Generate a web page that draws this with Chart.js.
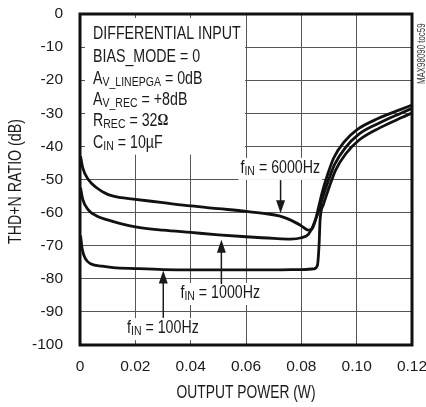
<!DOCTYPE html>
<html lang="en">
<head>
    <meta charset="UTF-8">
    <title>THD+N Ratio vs Output Power</title>
    <style>
        body { margin: 0; background: #fff; }
        canvas { display: block; }
    </style>
</head>
<body>
    <canvas id="myChart" width="426" height="407"></canvas>

    <script src="https://cdn.jsdelivr.net/npm/chart.js"></script>
    <script>
        // Valores (potência em W, THD+N em dB)
        const power6000 = [0.0002, 0.001, 0.003, 0.006, 0.01, 0.015, 0.02, 0.03, 0.04, 0.05, 0.06, 0.067, 0.072, 0.076, 0.08, 0.0825, 0.0838, 0.085, 0.0862, 0.0875, 0.0895, 0.0917, 0.0954, 0.1004, 0.1077, 0.116, 0.12];
        const thd6000 = [-43, -46.5, -50, -52.5, -54.5, -55.5, -56, -57, -58, -58.8, -59.6, -60.3, -61, -62.2, -64, -65.3, -65, -62.5, -58.5, -54, -48.5, -43.5, -38.7, -34.8, -31.6, -28.8, -27.5];

        const power1000 = [0.0002, 0.001, 0.003, 0.006, 0.01, 0.015, 0.02, 0.03, 0.04, 0.05, 0.06, 0.07, 0.076, 0.08, 0.0825, 0.084, 0.0852, 0.0863, 0.0877, 0.0897, 0.092, 0.0958, 0.1008, 0.108, 0.1162, 0.12];
        const thd1000 = [-52.5, -56, -59.2, -61, -62.2, -63.4, -64.3, -65.3, -66, -66.7, -67.3, -67.8, -68, -67.6, -66.6, -64.5, -62, -59.5, -55.5, -50.5, -45.5, -40.5, -36.3, -33, -29.9, -28.5];

        const power100 = [0.0002, 0.0008, 0.002, 0.004, 0.008, 0.012, 0.02, 0.03, 0.04, 0.05, 0.06, 0.07, 0.08, 0.0845, 0.0858, 0.0864, 0.0868, 0.088, 0.09, 0.0923, 0.096, 0.101, 0.1083, 0.1165, 0.12];
        const thd100 = [-67, -71, -74, -75.5, -76.2, -76.6, -76.9, -77.2, -77.3, -77.3, -77.3, -77.3, -77.2, -77, -76, -70, -62, -57.5, -52.5, -47.3, -42.3, -38, -34.4, -31.2, -29.9];

        const xTickLabels = ['0', '0.02', '0.04', '0.06', '0.08', '0.10', '0.12'];
        const yTickLabels = ['0', '-10', '-20', '-30', '-40', '-50', '-60', '-70', '-80', '-90', '-100'];

        const FONT = '"Liberation Sans", Arial, sans-serif';
        const NARROW = 0.79; // compressão horizontal para imitar a fonte condensada
        const INK = '#1a1a1a';

        // Condições de teste (caixa de texto no canto superior esquerdo)
        const conditions = [
            [['DIFFERENTIAL INPUT']],
            [['BIAS_MODE = 0']],
            [['A'], ['V_LINEPGA', 'sub'], [' = 0dB']],
            [['A'], ['V_REC', 'sub'], [' = +8dB']],
            [['R'], ['REC', 'sub'], [' = 32'], ['\u03A9', 'serif']],
            [['C'], ['IN', 'sub'], [' = 10\u00B5F']]
        ];

        // Rótulos das curvas com setas
        const curveLabels = [
            { text: '6000Hz', x: 0.058, y: -46.5, arrowX: 0.0725, from: -50.2, to: -60.2 },
            { text: '1000Hz', x: 0.0363, y: -84.3, arrowX: 0.0511, from: -81.6, to: -68.2 },
            { text: '100Hz', x: 0.017, y: -94.9, arrowX: 0.0301, from: -91.8, to: -77.5 }
        ];

        function toPoints(xs, ys) {
            return xs.map((x, i) => ({ x: x, y: ys[i] }));
        }

        // texto comprimido na horizontal; devolve a largura
        function narrowText(ctx, t, x, y, draw) {
            const w = ctx.measureText(t).width * NARROW;
            if (draw) {
                ctx.save();
                ctx.translate(x, y);
                ctx.scale(NARROW, 1);
                ctx.fillText(t, 0, 0);
                ctx.restore();
            }
            return w;
        }

        function richText(ctx, x, y, parts, size, measureOnly) {
            let cx = x;
            for (const [t, kind] of parts) {
                let s = size, dy = 0, fam = FONT, weight = '';
                if (kind === 'sub') { s = size * 0.74; dy = size * 0.2; }
                if (kind === 'serif') { fam = '"Liberation Serif", serif'; weight = 'bold '; s = size * 0.95; }
                ctx.font = weight + s + 'px ' + fam;
                cx += narrowText(ctx, t, cx, y + dy, !measureOnly);
            }
            return cx - x;
        }

        const annotations = {
            id: 'annotations',
            beforeDatasetsDraw(chart) {
                const ctx = chart.ctx;
                const xs = chart.scales.x, ys = chart.scales.y;
                const area = chart.chartArea;
                ctx.save();
                ctx.textBaseline = 'middle';
                ctx.textAlign = 'left';

                // fundo branco da caixa de condições
                ctx.fillStyle = '#fff';
                ctx.fillRect(area.left + 5, area.top + 4, xs.getPixelForValue(0.06) - area.left - 6, ys.getPixelForValue(-42.5) - area.top - 4);

                ctx.fillStyle = INK;
                const rowsY = [-6.0, -13.0, -19.6, -26.0, -32.3, -39.0];
                conditions.forEach((parts, i) => {
                    richText(ctx, xs.getPixelForValue(0.0047), ys.getPixelForValue(rowsY[i]), parts, 18);
                });

                // rótulos f_IN = ...
                curveLabels.forEach(l => {
                    const parts = [['f'], ['IN', 'sub'], [' = ' + l.text]];
                    const px = xs.getPixelForValue(l.x), py = ys.getPixelForValue(l.y);
                    const w = richText(ctx, px, py, parts, 18, true);
                    ctx.fillStyle = '#fff';
                    ctx.fillRect(px - 2, py - 10, w + 4, 22);
                    ctx.fillStyle = INK;
                    richText(ctx, px, py, parts, 18);
                });
                ctx.restore();
            },
            afterDatasetsDraw(chart) {
                const ctx = chart.ctx;
                const xs = chart.scales.x, ys = chart.scales.y;
                const area = chart.chartArea;
                ctx.save();

                // setas
                ctx.strokeStyle = INK;
                ctx.fillStyle = INK;
                ctx.lineWidth = 1.5;
                curveLabels.forEach(l => {
                    const ax = xs.getPixelForValue(l.arrowX);
                    const y0 = ys.getPixelForValue(l.from), y1 = ys.getPixelForValue(l.to);
                    const dir = y1 > y0 ? 1 : -1;
                    ctx.beginPath();
                    ctx.moveTo(ax, y0);
                    ctx.lineTo(ax, y1 - dir * 10);
                    ctx.stroke();
                    ctx.beginPath();
                    ctx.moveTo(ax, y1);
                    ctx.lineTo(ax - 4.5, y1 - dir * 13);
                    ctx.lineTo(ax + 4.5, y1 - dir * 13);
                    ctx.closePath();
                    ctx.fill();
                });

                // moldura
                ctx.lineWidth = 3;
                ctx.strokeStyle = '#111';
                ctx.strokeRect(area.left, area.top, area.right - area.left, area.bottom - area.top);

                // código da figura, vertical
                ctx.translate(area.right + 10, (area.top + ys.getPixelForValue(-24)) / 2);
                ctx.rotate(-Math.PI / 2);
                ctx.font = '10px ' + FONT;
                ctx.textAlign = 'left';
                ctx.textBaseline = 'middle';
                ctx.fillStyle = '#333';
                const w = ctx.measureText('MAX98090 toc59').width * NARROW;
                narrowText(ctx, 'MAX98090 toc59', -w / 2, 0, true);
                ctx.restore();

                // títulos dos eixos
                ctx.save();
                ctx.fillStyle = INK;
                ctx.textAlign = 'left';
                ctx.textBaseline = 'middle';
                ctx.font = '17.5px ' + FONT;
                let tw = ctx.measureText('OUTPUT POWER (W)').width * NARROW;
                narrowText(ctx, 'OUTPUT POWER (W)', (area.left + area.right) / 2 - tw / 2, 393, true);
                ctx.translate(16, (area.top + area.bottom) / 2 + 2);
                ctx.rotate(-Math.PI / 2);
                ctx.font = '18px ' + FONT;
                tw = ctx.measureText('THD+N RATIO (dB)').width * NARROW;
                narrowText(ctx, 'THD+N RATIO (dB)', -tw / 2, 0, true);
                ctx.restore();
            }
        };

        const lineStyle = {
            borderColor: '#111',
            borderWidth: 2.8,
            pointRadius: 0,
            fill: false,
            cubicInterpolationMode: 'monotone'
        };

        new Chart(document.getElementById('myChart').getContext('2d'), {
            type: 'line',
            data: {
                datasets: [
                    Object.assign({ label: '6000Hz', data: toPoints(power6000, thd6000) }, lineStyle),
                    Object.assign({ label: '1000Hz', data: toPoints(power1000, thd1000) }, lineStyle),
                    Object.assign({ label: '100Hz', data: toPoints(power100, thd100) }, lineStyle)
                ]
            },
            options: {
                responsive: false,
                animation: false,
                devicePixelRatio: 1,
                layout: { padding: { left: 0, right: 14, top: 14, bottom: 0 } },
                plugins: {
                    legend: { display: false },
                    tooltip: { enabled: false }
                },
                scales: {
                    x: {
                        type: 'linear',
                        min: 0,
                        max: 0.12,
                        afterBuildTicks(scale) {
                            scale.ticks = xTickLabels.map(t => ({ value: parseFloat(t) }));
                        },
                        afterFit(scale) {
                            scale.height = 62;
                            scale.paddingLeft = 0;
                            scale.paddingRight = 0;
                        },
                        ticks: {
                            maxRotation: 0,
                            autoSkip: false,
                            padding: 12,
                            color: INK,
                            font: { family: FONT, size: 15.5 },
                            callback: (v, i) => xTickLabels[i]
                        },
                        grid: { color: '#555', lineWidth: 1, drawTicks: false },
                        border: { display: false }
                    },
                    y: {
                        min: -100,
                        max: 0,
                        afterBuildTicks(scale) {
                            scale.ticks = yTickLabels.map(t => ({ value: parseFloat(t) }));
                        },
                        afterFit(scale) {
                            scale.width = 80;
                            scale.paddingTop = 0;
                            scale.paddingBottom = 0;
                        },
                        ticks: {
                            autoSkip: false,
                            padding: 17,
                            color: INK,
                            font: { family: FONT, size: 15.5 },
                            callback: (v, i) => yTickLabels[i]
                        },
                        grid: { color: '#555', lineWidth: 1, drawTicks: false },
                        border: { display: false }
                    }
                }
            },
            plugins: [annotations]
        });
    </script>
</body>
</html>
